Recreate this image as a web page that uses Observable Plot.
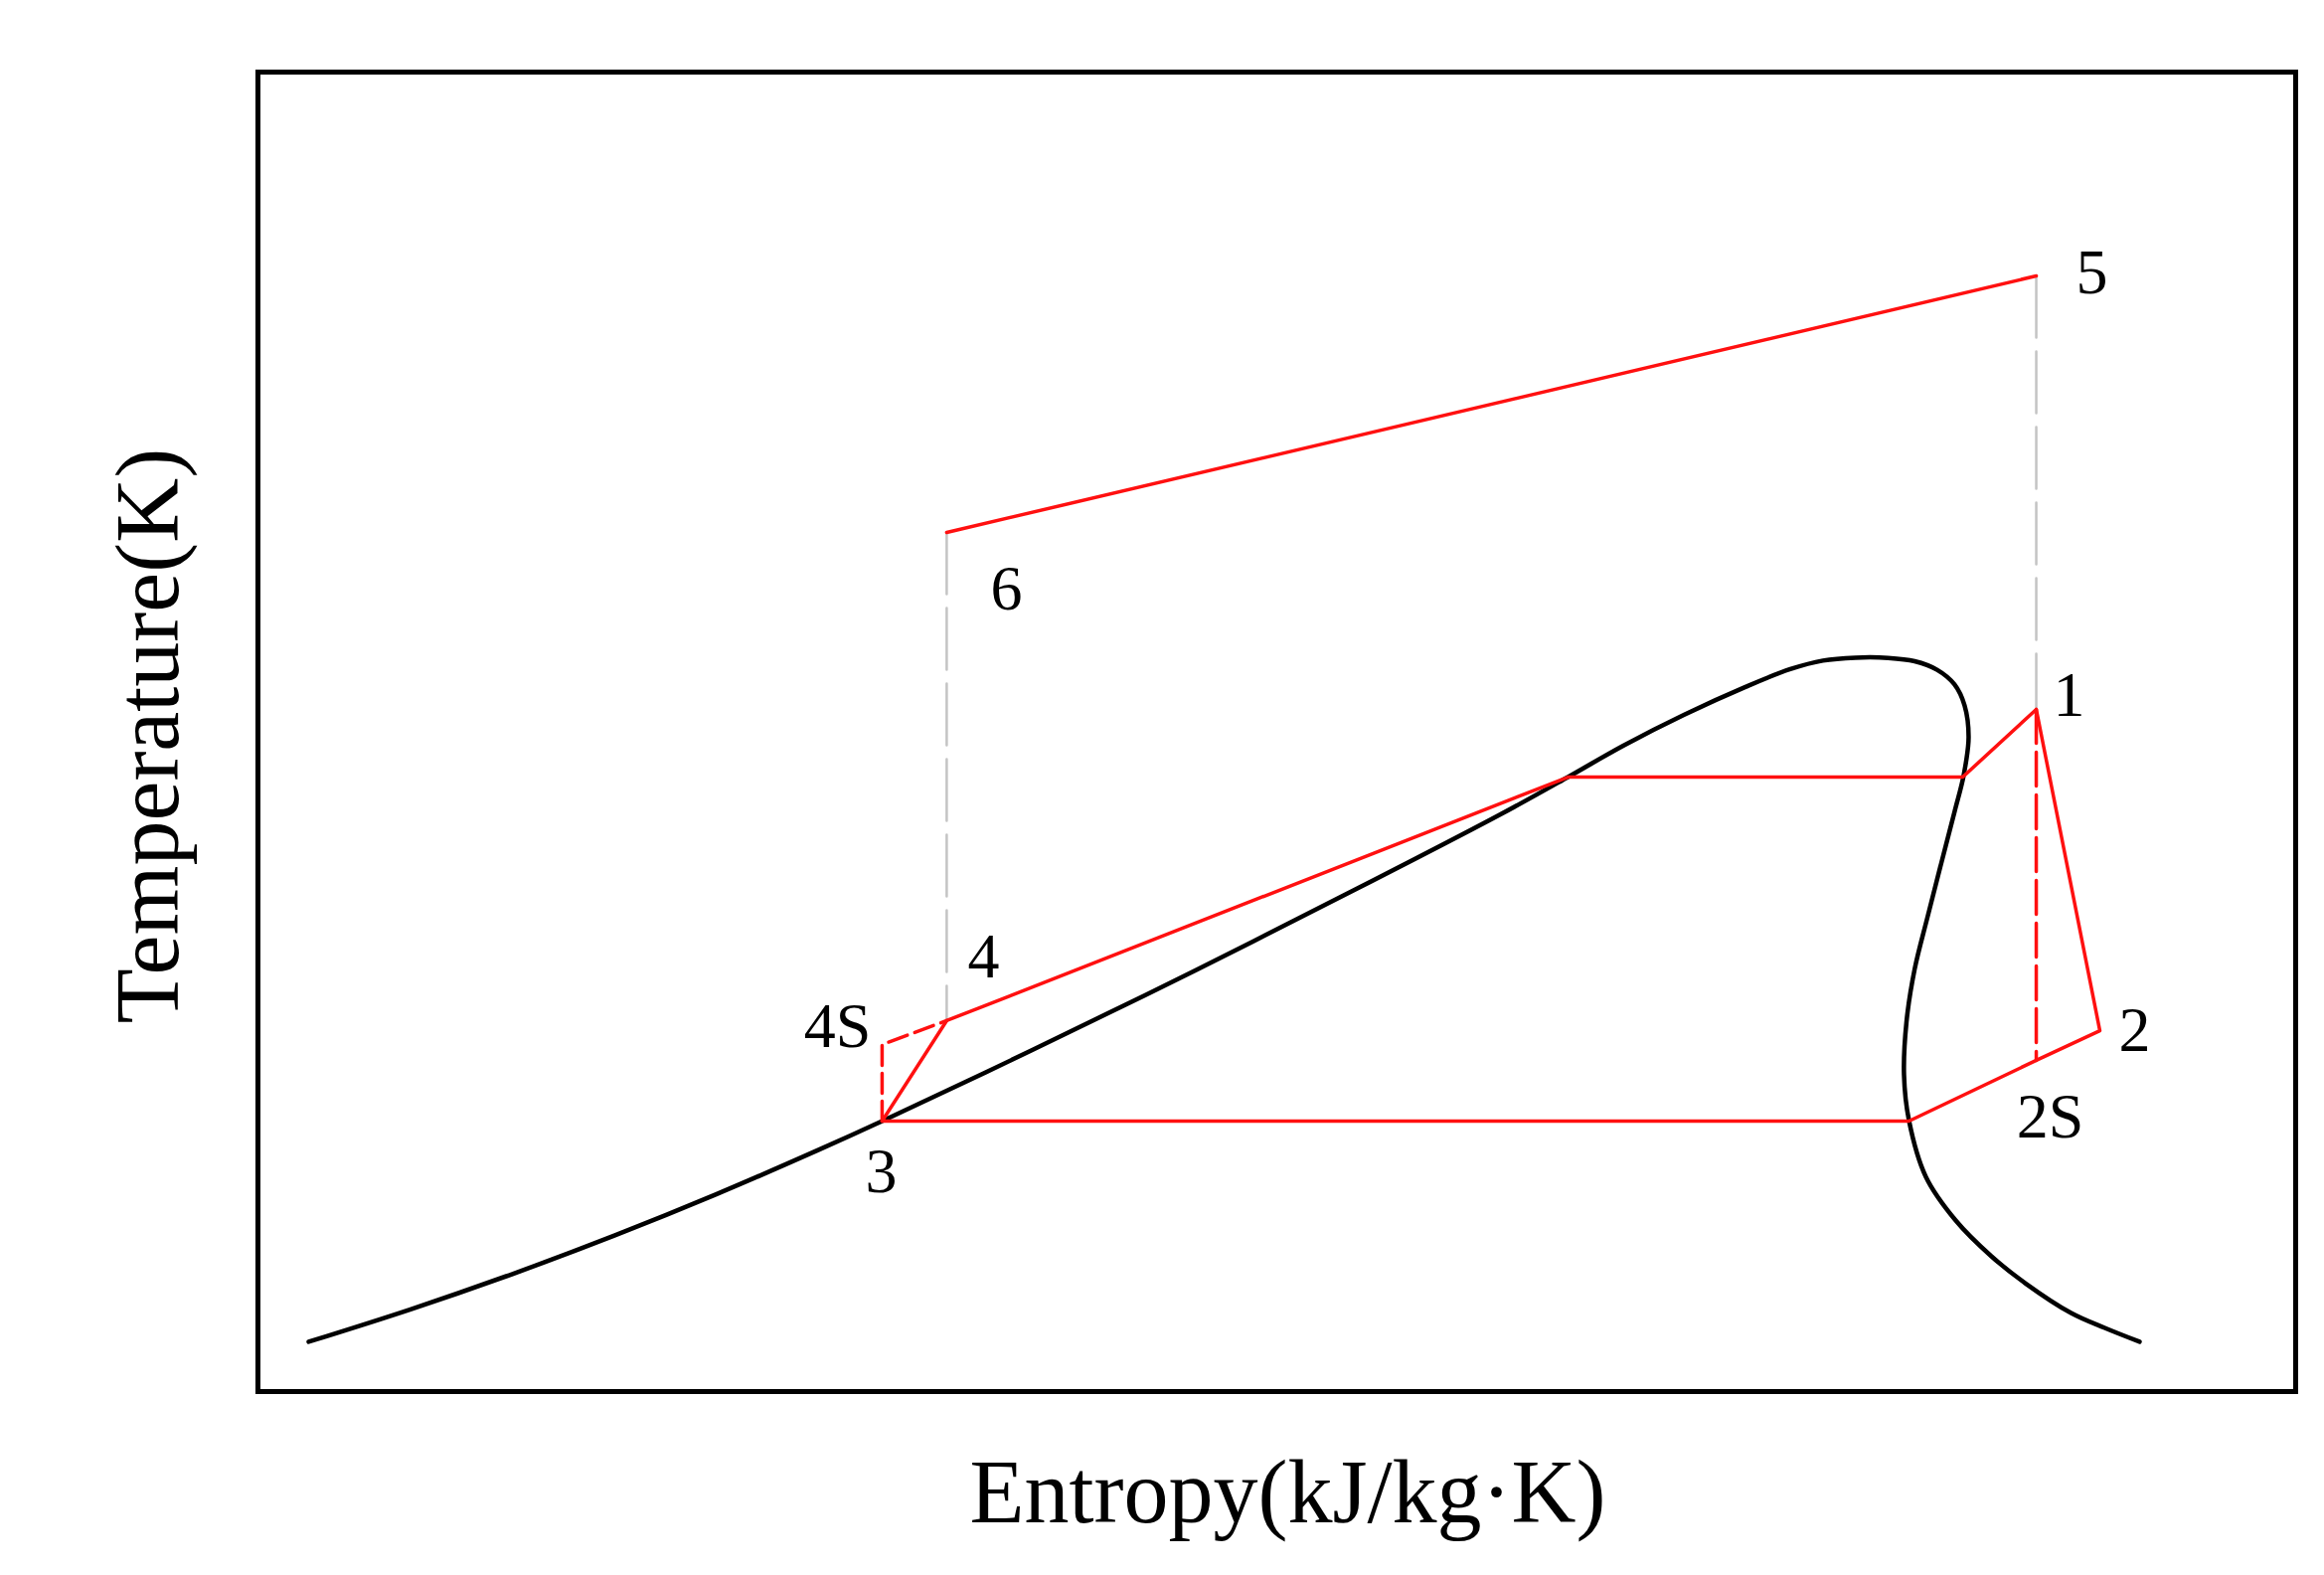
<!DOCTYPE html>
<html>
<head>
<meta charset="utf-8">
<script src="https://cdn.jsdelivr.net/npm/d3@7"></script>
<script src="https://cdn.jsdelivr.net/npm/@observablehq/plot@0.6"></script>
<style>
  html, body { margin: 0; padding: 0; background: #fff; }
  #chart svg { display: block; }
</style>
</head>
<body>
<div id="chart"></div>
<script>
// Saturation dome (entropy, temperature) in arbitrary units
const domeS = [2.49, 7.49, 12.49, 17.49, 22.49, 27.49, 30.63, 38.00, 46.00, 54.00, 61.00, 64.29, 67.00, 70.00, 73.00, 75.20, 76.80, 78.40, 80.00, 81.30, 82.40, 83.25, 83.75, 83.95, 83.71, 83.27, 82.60, 81.94, 81.30, 80.90, 80.78, 81.02, 81.85, 83.32, 85.07, 86.73, 88.98, 90.63, 92.34];
const domeT = [3.77, 6.23, 8.91, 11.82, 14.95, 18.30, 20.50, 25.88, 31.92, 38.16, 43.76, 46.57, 48.95, 51.30, 53.40, 54.75, 55.40, 55.62, 55.60, 55.35, 54.70, 53.60, 52.00, 49.60, 46.72, 44.00, 40.00, 36.00, 32.00, 28.00, 24.00, 20.57, 16.28, 12.96, 10.25, 8.21, 5.95, 4.82, 3.77];

// Cycle: 3 -> 4 -> sat. liquid -> sat. vapour -> 1 -> 2 -> 2S -> sat. vapour -> 3
const cycleS = [30.63, 33.80, 64.29, 83.66, 87.27, 90.39, 87.27, 81.02, 30.63];
const cycleT = [20.50, 28.11, 46.57, 46.57, 51.70, 27.35, 25.10, 20.50, 20.50];

// Heat-source line 6 -> 5
const sourceS = [33.80, 87.27];
const sourceT = [65.11, 84.55];

// Isentropic (ideal) processes: 3 -> 4S -> 4 and 1 -> 2S
const pumpIdealS = [30.63, 30.63, 33.80];
const pumpIdealT = [20.50, 26.30, 28.11];
const turbineIdealS = [87.27, 87.27];
const turbineIdealT = [51.70, 25.10];

// Grey guide lines 6 -> 4 and 5 -> 1
const guide1S = [33.80, 33.80];
const guide1T = [65.11, 28.11];
const guide2S = [87.27, 87.27];
const guide2T = [84.55, 51.70];

// State labels
const labelNames = ["5", "6", "1", "2", "2S", "3", "4", "4S"];
const labelS = [90.00, 36.73, 88.88, 92.10, 87.95, 30.59, 35.61, 28.44];
const labelT = [84.78, 60.81, 52.75, 27.35, 20.80, 16.65, 32.93, 27.66];

const xTitle = "Entropy(kJ/kg·K)";
const yTitle = "Temperature(K)";

const pts = (S, T) => S.map((s, i) => ({s, t: T[i]}));
const RED = "#ff1010";

const chart = Plot.plot({
  width: 2338,
  height: 1584,
  marginLeft: 259,
  marginRight: 29,
  marginTop: 72,
  marginBottom: 185,
  x: {domain: [0, 100], axis: null},
  y: {domain: [0, 100], axis: null},
  style: {fontFamily: "'Liberation Serif', 'Times New Roman', serif", background: "#fff", color: "#000"},
  marks: [
    Plot.line(pts(guide1S, guide1T), {x: "s", y: "t", stroke: "#c4c4c4", strokeWidth: 2.5, strokeDasharray: "62,14"}),
    Plot.line(pts(guide2S, guide2T), {x: "s", y: "t", stroke: "#c4c4c4", strokeWidth: 2.5, strokeDasharray: "62,14"}),
    Plot.line(pts(domeS, domeT), {x: "s", y: "t", stroke: "#000", strokeWidth: 4.5, curve: "catmull-rom"}),
    Plot.line(pts(cycleS, cycleT), {x: "s", y: "t", stroke: RED, strokeWidth: 3.5}),
    Plot.line(pts(sourceS, sourceT), {x: "s", y: "t", stroke: RED, strokeWidth: 3.5}),
    Plot.line(pts(pumpIdealS, pumpIdealT), {x: "s", y: "t", stroke: RED, strokeWidth: 3.5, strokeDasharray: "20,8"}),
    Plot.line(pts(turbineIdealS, turbineIdealT), {x: "s", y: "t", stroke: RED, strokeWidth: 3.5, strokeDasharray: "34,9"}),
    Plot.text(labelNames.map((n, i) => ({n, s: labelS[i], t: labelT[i]})), {
      x: "s", y: "t", text: "n", fontSize: 64, fill: "#000", textAnchor: "middle", lineAnchor: "middle"
    }),
    Plot.frame({stroke: "#000", strokeWidth: 5}),
    Plot.text([xTitle], {frameAnchor: "bottom", dx: 11, dy: 103, fontSize: 90, fill: "#000", textAnchor: "middle", lineAnchor: "middle"}),
    Plot.text([yTitle], {frameAnchor: "left", dx: -109, dy: 4, rotate: -90, fontSize: 90, fill: "#000", textAnchor: "middle", lineAnchor: "middle"})
  ]
});
document.getElementById("chart").appendChild(chart);
</script>
</body>
</html>
